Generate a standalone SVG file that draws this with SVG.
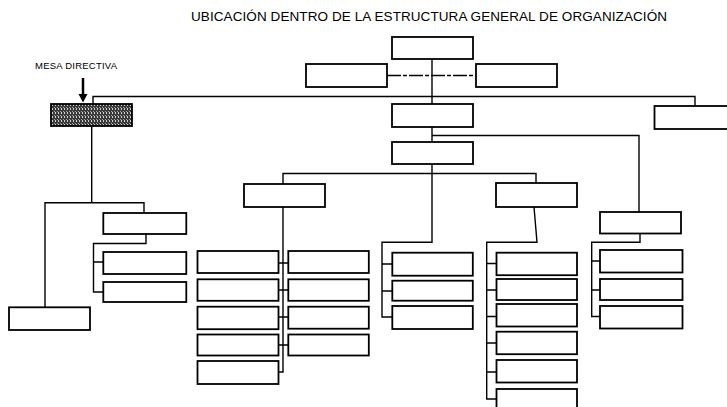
<svg xmlns="http://www.w3.org/2000/svg" width="727" height="407" viewBox="0 0 727 407">
<style>
.box{fill:#fff;stroke:#000;stroke-width:1.8}
.dark{fill:url(#hatch);stroke:#000;stroke-width:1.8}
.con{fill:none;stroke:#000;stroke-width:1.4}
.dash{stroke-dasharray:14 2 4 2}
text{font-family:"Liberation Sans",Arial,sans-serif;fill:#000}
</style>
<defs>
<pattern id="hatch" width="3" height="4" patternUnits="userSpaceOnUse">
<rect width="3" height="4" fill="#3a3a3a"/>
<rect x="1" y="0" width="1" height="2" fill="#d0d0d0"/>
<rect x="0" y="3" width="1" height="1" fill="#a0a0a0"/>
</pattern>
</defs>
<rect width="727" height="407" fill="#fff"/>
<text x="191" y="20.5" font-size="13.5" textLength="476" lengthAdjust="spacing">UBICACIÓN DENTRO DE LA ESTRUCTURA GENERAL DE ORGANIZACIÓN</text>
<g id="label-mesa">
<text x="35" y="69" font-size="9.5" textLength="82" lengthAdjust="spacing">MESA DIRECTIVA</text>
<line x1="83" y1="78" x2="83" y2="95" stroke="#000" stroke-width="2.5"/>
<polygon points="78.5,94 87.5,94 83,102.5" fill="#000"/>
</g>
<g id="connectors">
<path class="con" d="M432 59 V142"/>
<path class="con dash" d="M387 75.5 H476"/>
<path class="con" d="M93 104 V96.5 H695 V106"/>
<path class="con" d="M432 135.5 H639 V212"/>
<path class="con" d="M432 164 V242.3 H382 V317 H392 M382 264 H392 M382 291 H392"/>
<path class="con" d="M283 184 V173.5 H536 V183"/>
<path class="con" d="M91.7 126 V202.7 M45 307.3 V202.7 H144 V213"/>
<path class="con" d="M146 234 V243.5 H93.5 V292 H103 M93.5 262 H103"/>
<path class="con" d="M283 207 V372 H279 M278.7 263 H288.3 M278.7 290 H288.3 M278.7 317 H288.3 M278.7 345 H288.3"/>
<path class="con" d="M534 207 L537 242.3 H486.7 V399 H496.5 M486.7 263.5 H496.5 M486.7 290 H496.5 M486.7 316.5 H496.5 M486.7 343 H496.5 M486.7 372 H496.5"/>
<path class="con" d="M640 233.5 V242.3 H591.7 V316.5 H600 M591.7 261 H600 M591.7 290 H600"/>
</g>
<g id="node-top"><rect class="box" x="392" y="37" width="81" height="22"/></g>
<g id="node-staff-left"><rect class="box" x="306" y="64" width="81" height="23"/></g>
<g id="node-staff-right"><rect class="box" x="476" y="64" width="81" height="23"/></g>
<g id="node-mesa"><rect class="dark" x="51" y="104" width="81" height="22"/></g>
<g id="node-center2"><rect class="box" x="392" y="104" width="81" height="23"/></g>
<g id="node-right-top"><rect class="box" x="654.5" y="106" width="82" height="23"/></g>
<g id="node-center3"><rect class="box" x="392" y="142" width="81" height="22"/></g>
<g id="node-l1"><rect class="box" x="103.3" y="213" width="83" height="21"/></g>
<g id="node-l1a"><rect class="box" x="103.3" y="252" width="83" height="22"/></g>
<g id="node-l1b"><rect class="box" x="103.3" y="282" width="83" height="20"/></g>
<g id="node-l2"><rect class="box" x="9" y="307.3" width="81" height="22.7"/></g>
<g id="node-a"><rect class="box" x="244" y="184" width="81" height="23"/></g>
<g id="node-a-l1"><rect class="box" x="197.5" y="251" width="81" height="22"/></g>
<g id="node-a-l2"><rect class="box" x="197.5" y="279.3" width="81" height="21.5"/></g>
<g id="node-a-l3"><rect class="box" x="197.5" y="306.7" width="81" height="22.5"/></g>
<g id="node-a-l4"><rect class="box" x="197.5" y="334.5" width="81" height="21"/></g>
<g id="node-a-l5"><rect class="box" x="197.5" y="361" width="81" height="23"/></g>
<g id="node-a-r1"><rect class="box" x="288.3" y="251" width="80.5" height="22"/></g>
<g id="node-a-r2"><rect class="box" x="288.3" y="279.3" width="80.5" height="21.5"/></g>
<g id="node-a-r3"><rect class="box" x="288.3" y="306.7" width="80.5" height="22"/></g>
<g id="node-a-r4"><rect class="box" x="288.3" y="334.5" width="80.5" height="21"/></g>
<g id="node-b1"><rect class="box" x="392.3" y="252.7" width="80.5" height="23"/></g>
<g id="node-b2"><rect class="box" x="392.3" y="280.7" width="80.5" height="20"/></g>
<g id="node-b3"><rect class="box" x="392.3" y="306" width="80.5" height="23"/></g>
<g id="node-c"><rect class="box" x="496" y="183" width="81" height="24"/></g>
<g id="node-c1"><rect class="box" x="496.5" y="252.7" width="80.5" height="22.5"/></g>
<g id="node-c2"><rect class="box" x="496.5" y="279" width="80.5" height="21"/></g>
<g id="node-c3"><rect class="box" x="496.5" y="304" width="80.5" height="22.5"/></g>
<g id="node-c4"><rect class="box" x="496.5" y="331.7" width="80.5" height="22.5"/></g>
<g id="node-c5"><rect class="box" x="496.5" y="360" width="80.5" height="22.5"/></g>
<g id="node-c6"><rect class="box" x="496.5" y="389" width="80.5" height="30"/></g>
<g id="node-d"><rect class="box" x="600" y="212" width="81" height="21.5"/></g>
<g id="node-d1"><rect class="box" x="600" y="250" width="82.5" height="22.5"/></g>
<g id="node-d2"><rect class="box" x="600" y="279" width="82.5" height="21"/></g>
<g id="node-d3"><rect class="box" x="600" y="306" width="82.5" height="22.5"/></g>
</svg>
